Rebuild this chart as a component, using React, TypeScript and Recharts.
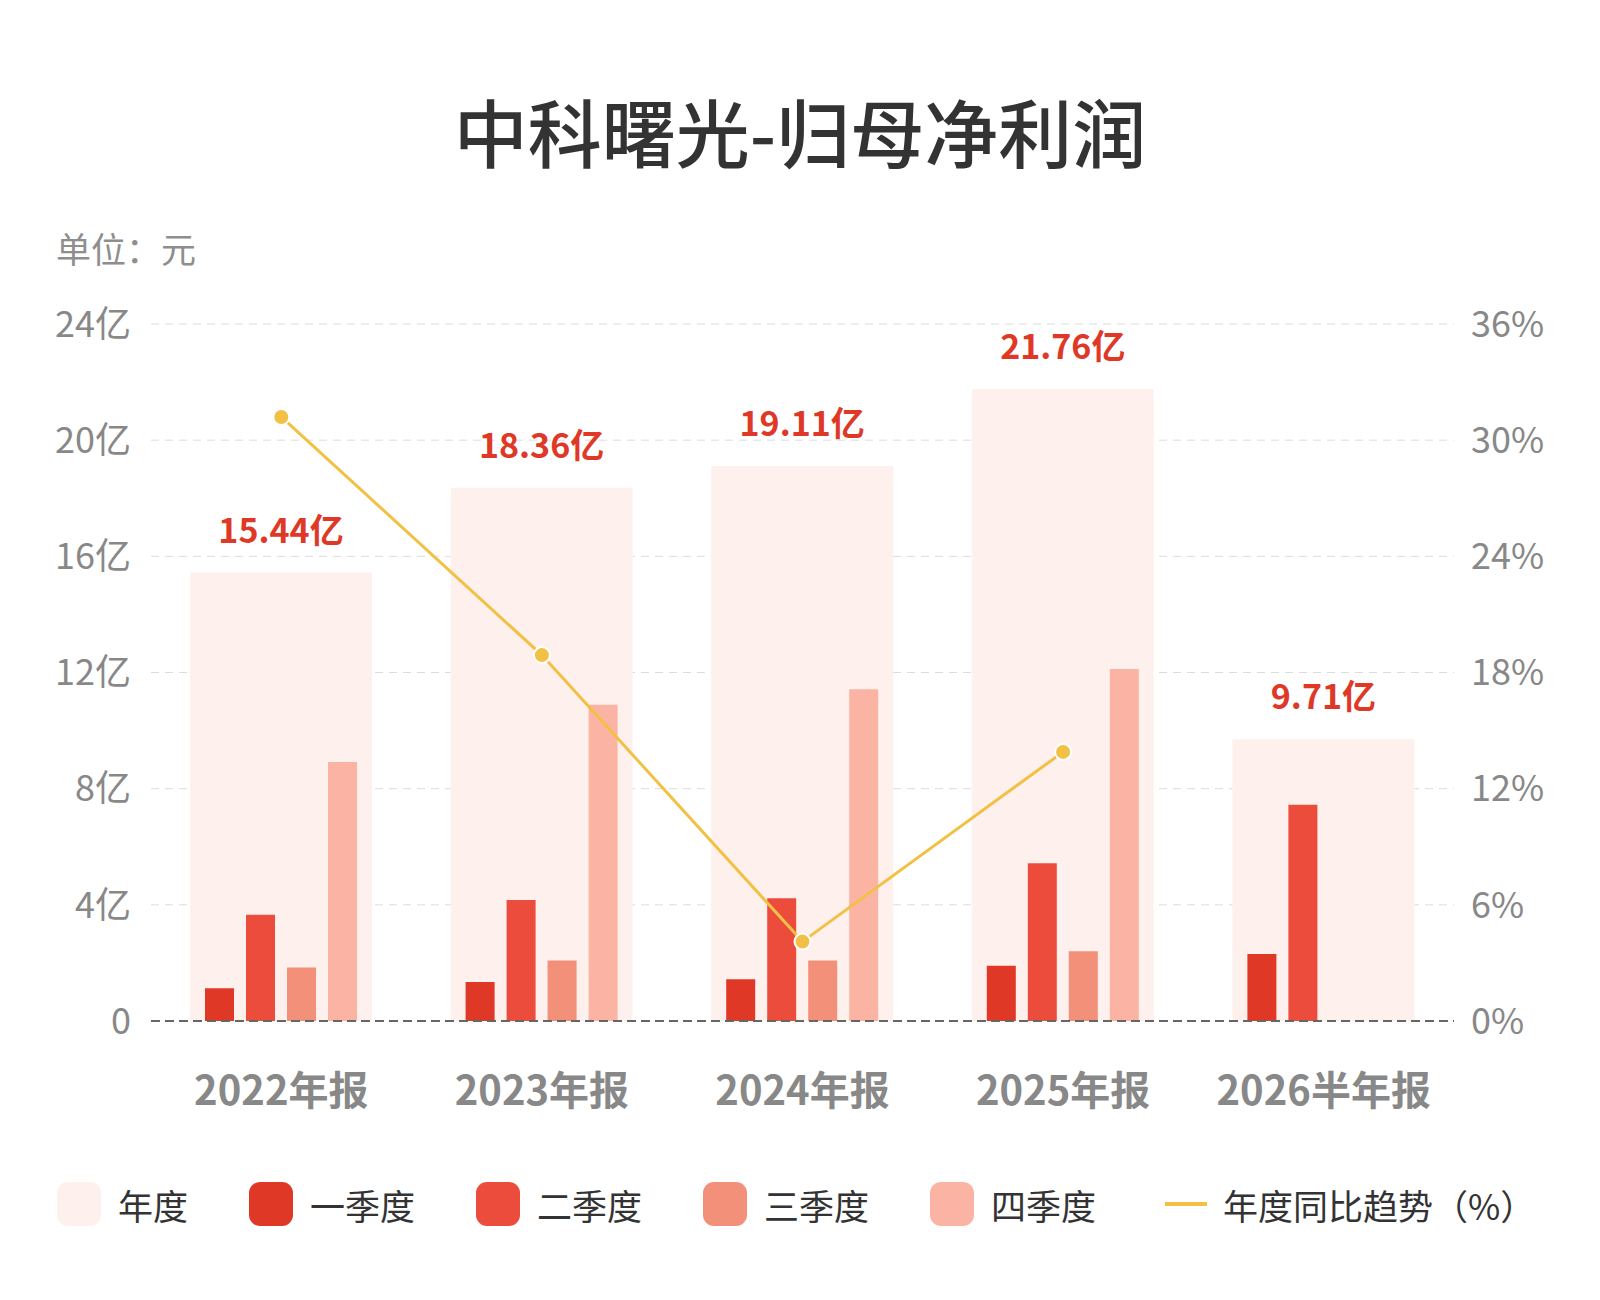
import React from 'react';
import {
  Bar,
  CartesianGrid,
  ComposedChart,
  LabelList,
  Line,
  ReferenceLine,
  XAxis,
  YAxis,
} from 'recharts';

const FONT = '"Noto Sans CJK SC", "Noto Sans", sans-serif';

const CATEGORIES = ['2022年报', '2023年报', '2024年报', '2025年报', '2026半年报'];
const ANNUAL = [15.44, 18.36, 19.11, 21.76, 9.71];
const Q1 = [1.13, 1.34, 1.44, 1.9, 2.31];
const Q2 = [3.66, 4.17, 4.23, 5.43, 7.45];
const Q3 = [1.84, 2.08, 2.08, 2.4, null];
const Q4 = [8.92, 10.89, 11.42, 12.12, null];
const YOY = [31.2, 18.9, 4.1, 13.9, null];

const LEFT_TICKS = [0, 4, 8, 12, 16, 20, 24];
const RIGHT_TICKS = [0, 6, 12, 18, 24, 30, 36];

const COLORS = {
  annual: '#fef0ec',
  q1: '#e03826',
  q2: '#ec4c3c',
  q3: '#f3907a',
  q4: '#fbb4a3',
  line: '#f2c045',
  label: '#e03826',
};

const data = CATEGORIES.map((name, i) => ({
  name,
  annual: ANNUAL[i],
  q1: Q1[i],
  q2: Q2[i],
  q3: Q3[i],
  q4: Q4[i],
  yoy: YOY[i],
}));

const LEGEND = [
  { label: '年度', color: COLORS.annual },
  { label: '一季度', color: COLORS.q1 },
  { label: '二季度', color: COLORS.q2 },
  { label: '三季度', color: COLORS.q3 },
  { label: '四季度', color: COLORS.q4 },
];

const ValueLabel = (props: any) => {
  const { x, y, width, value } = props;
  if (value == null) return null;
  return (
    <text
      x={x + width / 2}
      y={y - 30}
      textAnchor="middle"
      fill={COLORS.label}
      fontSize={34}
      fontWeight={700}
      fontFamily={FONT}
    >
      {value}亿
    </text>
  );
};

export default function App() {
  return (
    <div
      style={{
        position: 'absolute',
        left: 0,
        top: 0,
        width: 1600,
        height: 1300,
        background: '#fff',
        fontFamily: FONT,
      }}
    >
      <div
        style={{
          position: 'absolute',
          top: 80,
          width: 1600,
          textAlign: 'center',
          fontSize: 74,
          fontWeight: 500,
          color: '#333',
          lineHeight: '100px',
        }}
      >
        中科曙光-归母净利润
      </div>
      <div
        style={{
          position: 'absolute',
          left: 56,
          top: 224,
          fontSize: 35,
          color: '#8e8e8e',
          lineHeight: '48px',
        }}
      >
        单位：元
      </div>

      <ComposedChart
        width={1600}
        height={1300}
        data={data}
        barGap={12}
        margin={{ top: 324, right: 0, bottom: 179, left: 0 }}
        style={{ position: 'absolute', left: 0, top: 0 }}
      >
        <CartesianGrid vertical={false} stroke="#dcdcdc" strokeDasharray="8 6" yAxisId="left" />
        <XAxis
          xAxisId="q"
          dataKey="name"
          height={100}
          axisLine={false}
          tickLine={false}
          tickMargin={20}
          tick={{ fill: '#888', fontSize: 40, fontWeight: 700, fontFamily: FONT }}
        />
        <XAxis xAxisId="bg" dataKey="name" hide />
        <YAxis
          yAxisId="left"
          width={151}
          domain={[0, 24]}
          ticks={LEFT_TICKS}
          axisLine={false}
          tickLine={false}
          tickMargin={14}
          tickFormatter={(v: number) => (v === 0 ? '0' : `${v}亿`)}
          tick={{ fill: '#888', fontSize: 36, fontFamily: FONT }}
        />
        <YAxis
          yAxisId="right"
          orientation="right"
          width={146}
          domain={[0, 36]}
          ticks={RIGHT_TICKS}
          axisLine={false}
          tickLine={false}
          tickMargin={11}
          tickFormatter={(v: number) => `${v}%`}
          tick={{ fill: '#888', fontSize: 36, fontFamily: FONT }}
        />
        <Bar
          xAxisId="bg"
          yAxisId="left"
          dataKey="annual"
          fill={COLORS.annual}
          barSize={182}
          isAnimationActive={false}
        >
          <LabelList dataKey="annual" content={ValueLabel} />
        </Bar>
        <Bar xAxisId="q" yAxisId="left" dataKey="q1" fill={COLORS.q1} barSize={29} isAnimationActive={false} />
        <Bar xAxisId="q" yAxisId="left" dataKey="q2" fill={COLORS.q2} barSize={29} isAnimationActive={false} />
        <Bar xAxisId="q" yAxisId="left" dataKey="q3" fill={COLORS.q3} barSize={29} isAnimationActive={false} />
        <Bar xAxisId="q" yAxisId="left" dataKey="q4" fill={COLORS.q4} barSize={29} isAnimationActive={false} />
        <ReferenceLine xAxisId="q" yAxisId="left" y={0} stroke="#666" strokeWidth={2} strokeDasharray="9 5" />
        <Line
          xAxisId="q"
          yAxisId="right"
          dataKey="yoy"
          stroke={COLORS.line}
          strokeWidth={3}
          dot={{ r: 8, fill: COLORS.line, stroke: '#fff', strokeWidth: 2 }}
          isAnimationActive={false}
        />
      </ComposedChart>

      <div
        style={{
          position: 'absolute',
          left: 57,
          top: 1182,
          display: 'flex',
          alignItems: 'center',
          height: 44,
          fontSize: 35,
          color: '#333',
        }}
      >
        {LEGEND.map((item) => (
          <div key={item.label} style={{ display: 'flex', alignItems: 'center', marginRight: 61 }}>
            <span
              style={{
                display: 'inline-block',
                width: 44,
                height: 44,
                borderRadius: 11,
                background: item.color,
                marginRight: 17,
              }}
            />
            <span>{item.label}</span>
          </div>
        ))}
        <div style={{ display: 'flex', alignItems: 'center' }}>
          <span
            style={{
              display: 'inline-block',
              width: 42,
              height: 4,
              background: COLORS.line,
              marginLeft: 8,
              marginRight: 16,
            }}
          />
          <span>年度同比趋势（%）</span>
        </div>
      </div>
    </div>
  );
}
